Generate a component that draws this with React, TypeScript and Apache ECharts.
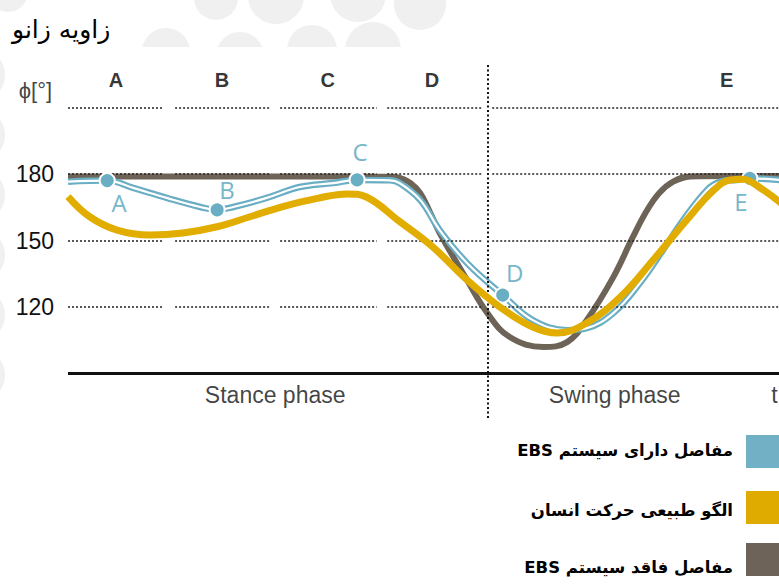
import React, { useEffect, useRef } from "react";
import * as echarts from "echarts";

// Gait cycle percentage (x) and knee angle in degrees (y)
const grayX = [0, 10, 20, 30, 40, 46, 47.4, 48.9, 50.3, 51.7, 53.1, 57, 59.9, 63.1, 67.9, 71.3, 74.1, 77.9, 80.7, 82.7, 84.5, 86.4, 88.9, 95, 102];
const grayY = [178.8, 178.8, 178.8, 178.8, 178.8, 178.7, 178.2, 176, 171.4, 162.8, 153.4, 132.2, 117.3, 106.5, 102, 104.2, 114.1, 133.5, 151.6, 163.5, 171.5, 176.4, 178.9, 179.1, 179.1];

const blueX = [0, 5.6, 9.3, 14.1, 18.9, 21.3, 23.6, 28.4, 33.1, 37.9, 41.3, 46, 47.4, 50.3, 53.1, 57, 62.1, 66.4, 71.3, 74.1, 77.9, 81.7, 85, 87.9, 91.3, 93.1, 95.5, 97.4, 102];
const blueY = [176.5, 177, 173.7, 169.2, 165.1, 163.8, 165.1, 169.2, 174.1, 175.9, 177.3, 177.1, 175.8, 168.3, 154.7, 139.9, 125.4, 114.1, 109.6, 110.5, 117.3, 130.8, 145.7, 159.3, 172.8, 176.4, 177.3, 178, 177.2];

const goldX = [0, 3.1, 7, 11.7, 16.4, 21.3, 26, 30.7, 35.6, 39.9, 42.7, 47.4, 52.1, 57, 61.7, 66.4, 69.9, 74.1, 78.9, 83.6, 88.4, 92.1, 94.6, 96.4, 98.9, 102];
const goldY = [169.8, 160.7, 154.7, 152.5, 153.4, 156.2, 160.7, 165.3, 169, 171, 169.5, 158.5, 147.1, 132.2, 120, 111, 108.3, 112.8, 124.5, 141.2, 159.3, 172.2, 177.3, 177.6, 173.7, 166.5];

// Marked points on the EBS curve
const pointNames = ["A", "B", "C", "D", "E"];
const pointX = [5.6, 21.3, 41.3, 62.1, 97.4];
const pointY = [177, 163.8, 177.3, 125.4, 178];

// Phase letters on top
const phaseLetters = ["A", "B", "C", "D", "E"];
const phaseLetterX = [6.86, 22, 37.1, 52, 94.1];

const yTickLabels = [120, 150, 180];
const gridLevels = [210, 180, 150, 120];
const columnSegments: [number, number][] = [
  [0, 13.6],
  [15.3, 28.9],
  [30.3, 44.1],
  [45.6, 59.3],
  [60.6, 102],
];

const phaseNames = ["Stance phase", "Swing phase"];
const phaseNameX = [29.6, 78.1];

const legendNames = [
  "مفاصل دارای سیستم EBS",
  "الگو طبیعی حرکت انسان",
  "مفاصل فاقد سیستم EBS",
];
const legendColors = ["#72b1c5", "#e0ab00", "#6d6358"];

const title = "زاویه زانو";

const BLUE = "#6aaec3";
const GOLD = "#e1ad00";
const GRAY = "#6d6357";

export default function App() {
  const ref = useRef<HTMLDivElement>(null);
  useEffect(() => {
    if (!ref.current) return;
    const chart = echarts.init(ref.current, undefined, { renderer: "svg" });

    const zip = (xs: number[], ys: number[]) => xs.map((x, i) => [x, ys[i]]);

    const gridLines: any[] = [];
    gridLevels.forEach((y) => {
      columnSegments.forEach(([a, b]) => {
        gridLines.push([{ coord: [a, y] }, { coord: [b, y] }]);
      });
    });
    // stance/swing divider
    gridLines.push([
      { coord: [60, 70], lineStyle: { type: [2, 2.5], width: 2, color: "#111" } },
      { coord: [60, 230] },
    ]);
    // baseline
    gridLines.push([
      { coord: [0, 90], lineStyle: { type: "solid", width: 3, color: "#111" } },
      { coord: [102, 90] },
    ]);

    const legendGraphics: any[] = [];
    const rectY = [435, 491, 543];
    const textY = [450, 510, 567];
    legendNames.forEach((n, i) => {
      legendGraphics.push({
        type: "rect",
        shape: { x: 746, y: rectY[i], width: 40, height: 33 },
        style: { fill: legendColors[i] },
        z: 10,
      });
      legendGraphics.push({
        type: "text",
        x: 733,
        y: textY[i],
        style: {
          text: "\u202B" + n + "\u202C",
          fontSize: 16.5,
          fontWeight: "bold",
          fontFamily: "DejaVu Sans",
          fill: "#000",
          align: "right",
          verticalAlign: "middle",
        },
        z: 10,
      });
    });

    const bgCircles: [number, number, number][] = [
      [8, -8, 20],
      [216, -2, 22],
      [276, -4, 28],
      [358, -6, 28],
      [166, 52, 24],
      [240, 56, 24],
      [312, 50, 25],
      [373, 50, 28],
      [420, 4, 26],
      [-22, 75, 27],
      [-22, 135, 27],
      [-22, 195, 27],
      [-22, 255, 27],
      [-22, 315, 27],
      [-22, 375, 27],
    ];

    const offsets = [
      [12, 22],
      [10, -20],
      [3, -28],
      [12, -23],
      [-9, 23],
    ];

    chart.setOption({
      animation: false,
      backgroundColor: "#ffffff",
      graphic: [
        ...bgCircles.map(([cx, cy, r]) => ({
          type: "circle",
          shape: { cx, cy, r },
          style: { fill: "#f0f0f0" },
          z: -10,
          silent: true,
        })),
        {
          type: "rect",
          shape: { x: 6, y: 47, width: 773, height: 538 },
          style: { fill: "#ffffff" },
          z: -9,
          silent: true,
        },
        {
          type: "text",
          x: 12,
          y: 29,
          style: {
            text: title,
            fontSize: 25,
            fontFamily: "DejaVu Sans",
            fill: "#000",
            align: "left",
            verticalAlign: "middle",
          },
          z: 10,
        },
        ...legendGraphics,
      ],
      grid: {
        left: 68,
        top: 63,
        width: 714,
        height: 355,
        outerBoundsMode: "none",
      },
      xAxis: {
        type: "value",
        min: 0,
        max: 102,
        show: false,
      },
      yAxis: {
        type: "value",
        min: 70,
        max: 230,
        interval: 10,
        axisLine: { show: false },
        axisTick: { show: false },
        splitLine: { show: false },
        axisLabel: {
          margin: 14,
          fontSize: 23,
          fontFamily: "Liberation Sans",
          color: "#111",
          formatter: (v: number) => (yTickLabels.includes(v) ? String(v) : ""),
        },
      },
      series: [
        {
          name: "grid",
          type: "line",
          data: [],
          silent: true,
          z: 1,
          markLine: {
            silent: true,
            symbol: "none",
            label: { show: false },
            lineStyle: { type: [2, 2], width: 1.6, color: "#222" },
            data: gridLines,
          },
        },
        {
          name: "gray",
          type: "line",
          z: 2,
          data: zip(grayX, grayY),
          smooth: 0.4,
          showSymbol: false,
          lineStyle: { color: GRAY, width: 6 },
        },
        {
          name: "blue",
          type: "line",
          z: 3,
          data: zip(blueX, blueY),
          smooth: 0.4,
          showSymbol: false,
          lineStyle: { color: BLUE, width: 6.5 },
        },
        {
          name: "blueCore",
          type: "line",
          z: 4,
          data: zip(blueX, blueY),
          smooth: 0.4,
          showSymbol: false,
          lineStyle: { color: "#ffffff", width: 2.2 },
        },
        {
          name: "points",
          type: "scatter",
          z: 5,
          symbol: "circle",
          symbolSize: 15,
          itemStyle: { color: BLUE, borderColor: "#ffffff", borderWidth: 2, opacity: 1 },
          data: pointNames.map((n, i) => ({
            name: n,
            value: [pointX[i], pointY[i]],
            label: {
              show: true,
              position: "inside",
              offset: offsets[i],
              formatter: n,
              fontSize: 24,
              fontFamily: "Open Sans",
              color: "#78b6ca",
            },
          })),
        },
        {
          name: "gold",
          type: "line",
          z: 6,
          data: zip(goldX, goldY),
          smooth: 0.4,
          showSymbol: false,
          lineStyle: { color: GOLD, width: 7 },
        },
        {
          name: "texts",
          type: "scatter",
          z: 7,
          clip: false,
          silent: true,
          symbolSize: 1,
          itemStyle: { color: "rgba(0,0,0,0)" },
          data: [
            ...phaseLetters.map((n, i) => ({
              value: [phaseLetterX[i], 222.4],
              label: {
                show: true,
                position: "inside",
                formatter: n,
                fontSize: 20,
                fontWeight: "bold",
                fontFamily: "Liberation Sans",
                color: "#000",
              },
            })),
            ...phaseNames.map((n, i) => ({
              value: [phaseNameX[i], 80.3],
              label: {
                show: true,
                position: "inside",
                formatter: n,
                fontSize: 23,
                fontFamily: "Liberation Sans",
                color: "#111",
              },
            })),
            {
              value: [100.4, 80.3],
              label: {
                show: true,
                position: "right",
                distance: 0,
                formatter: "t",
                fontSize: 23,
                fontFamily: "Liberation Sans",
                color: "#111",
              },
            },
            {
              value: [-2.2, 217.7],
              label: {
                show: true,
                position: "left",
                distance: 0,
                formatter: "ϕ[°]",
                fontSize: 22,
                fontFamily: "Liberation Sans",
                color: "#111",
              },
            },
          ],
        },
      ],
    });
    return () => chart.dispose();
  }, []);
  return (
    <div
      ref={ref}
      style={{ position: "fixed", left: 0, top: 0, width: 779, height: 585 }}
    />
  );
}
